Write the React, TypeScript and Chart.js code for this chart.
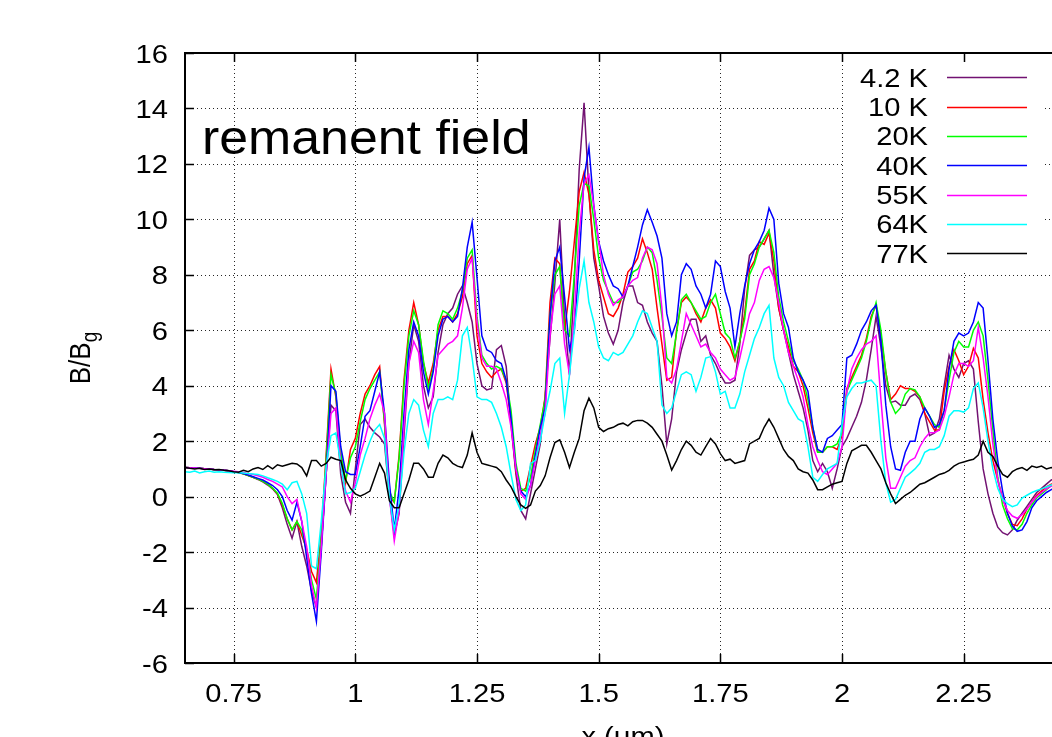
import { useEffect, useRef } from 'react';
import { Chart, registerables } from 'chart.js';

Chart.register(...registerables);

// Scan positions along the sample (μm)
const positions = [
  0.65, 0.66, 0.67, 0.68, 0.69, 0.7, 0.71, 0.72, 0.73, 0.74,
  0.75, 0.76, 0.77, 0.78, 0.79, 0.8, 0.81, 0.82, 0.83, 0.84,
  0.85, 0.86, 0.87, 0.88, 0.89, 0.9, 0.91, 0.92, 0.93, 0.94,
  0.95, 0.96, 0.97, 0.98, 0.99, 1.0, 1.01, 1.02, 1.03, 1.04,
  1.05, 1.06, 1.07, 1.08, 1.09, 1.1, 1.11, 1.12, 1.13, 1.14,
  1.15, 1.16, 1.17, 1.18, 1.19, 1.2, 1.21, 1.22, 1.23, 1.24,
  1.25, 1.26, 1.27, 1.28, 1.29, 1.3, 1.31, 1.32, 1.33, 1.34,
  1.35, 1.36, 1.37, 1.38, 1.39, 1.4, 1.41, 1.42, 1.43, 1.44,
  1.45, 1.46, 1.47, 1.48, 1.49, 1.5, 1.51, 1.52, 1.53, 1.54,
  1.55, 1.56, 1.57, 1.58, 1.59, 1.6, 1.61, 1.62, 1.63, 1.64,
  1.65, 1.66, 1.67, 1.68, 1.69, 1.7, 1.71, 1.72, 1.73, 1.74,
  1.75, 1.76, 1.77, 1.78, 1.79, 1.8, 1.81, 1.82, 1.83, 1.84,
  1.85, 1.86, 1.87, 1.88, 1.89, 1.9, 1.91, 1.92, 1.93, 1.94,
  1.95, 1.96, 1.97, 1.98, 1.99, 2.0, 2.01, 2.02, 2.03, 2.04,
  2.05, 2.06, 2.07, 2.08, 2.09, 2.1, 2.11, 2.12, 2.13, 2.14,
  2.15, 2.16, 2.17, 2.18, 2.19, 2.2, 2.21, 2.22, 2.23, 2.24,
  2.25, 2.26, 2.27, 2.28, 2.29, 2.3, 2.31, 2.32, 2.33, 2.34,
  2.35, 2.36, 2.37, 2.38, 2.39, 2.4, 2.41, 2.42, 2.43, 2.44,
  2.45,
];

// B/Bg profiles, one per temperature
const field4_2K = [
  1.05, 1.04, 1.03, 1.02, 1.01, 1.0, 0.98, 0.97, 0.95, 0.93,
  0.9, 0.87, 0.82, 0.76, 0.7, 0.62, 0.53, 0.42, 0.28, 0.08,
  -0.4, -1.0, -1.5, -0.9, -1.8, -2.5, -3.4, -4.0, -1.8, 0.8,
  3.3, 3.1, 0.8, -0.2, -0.6, 1.0, 2.6, 2.8, 2.5, 2.3,
  2.15, 1.9, 0.0, -1.4, -0.6, 2.2, 4.8, 6.2, 5.6, 4.0,
  3.2, 3.6, 5.2, 6.2, 6.6, 6.8, 7.3, 7.6, 7.0, 6.3,
  4.8, 4.0, 3.85, 3.9, 5.3, 5.45, 4.7, 2.6, 0.8, -0.5,
  -0.8, 0.1, 1.0, 1.9, 3.6, 5.7, 7.7, 10.0, 6.4, 4.4,
  7.8, 11.8, 14.2, 11.0, 8.6, 7.6, 6.5, 5.9, 5.5, 6.0,
  7.0, 7.6, 7.6, 7.0, 6.9, 6.3, 5.9, 5.6, 4.0, 1.9,
  2.8, 4.5, 5.3, 5.9, 6.4, 6.4, 5.6, 5.8, 5.1, 4.8,
  4.4, 4.1, 4.1, 4.2, 5.5, 7.5, 8.7, 8.9, 9.0, 9.3,
  9.6, 8.0, 6.8, 6.0, 5.2, 4.4, 3.8, 3.2, 2.4, 1.3,
  0.9, 1.2, 0.9, 0.3, 1.0, 1.8, 2.1, 2.5, 2.9, 3.4,
  4.2, 5.3, 6.5, 5.4, 4.0, 3.4, 3.45, 3.3, 3.3, 3.6,
  3.7, 3.5, 3.0, 2.2, 2.3, 2.8, 4.0, 5.1, 4.6, 4.3,
  4.8, 4.9, 4.6, 2.7, 1.0, 0.1, -0.6, -1.1, -1.3, -1.38,
  -1.2, -0.85, -0.6, -0.35, -0.1, 0.15, 0.3, 0.45, 0.6, 0.65,
  0.7,
];

const field10K = [
  1.05, 1.04, 1.03, 1.02, 1.01, 1.0, 0.98, 0.97, 0.95, 0.93,
  0.9, 0.87, 0.82, 0.76, 0.7, 0.63, 0.55, 0.45, 0.3, 0.1,
  -0.3, -0.8, -1.2, -0.9, -1.4, -1.9, -2.7, -3.1, -1.3, 1.5,
  4.6, 3.6, 1.5, 0.5, 1.7, 2.1, 3.0, 3.7, 4.0, 4.4,
  4.7, 2.6, 0.0, -0.2, 1.5, 4.2, 6.0, 7.0, 6.2, 4.8,
  4.1, 4.8, 6.0, 6.5, 6.5, 6.3, 6.6, 7.2, 8.4, 8.7,
  5.8, 4.8, 4.5, 4.3, 4.5, 4.6, 4.1, 2.7, 0.9, 0.2,
  0.3, 1.1, 1.9, 2.5, 3.6, 7.0, 8.6, 8.4, 6.0, 7.4,
  9.2, 11.0, 11.7, 10.9, 8.9, 7.8, 7.2, 6.6, 6.5, 6.8,
  7.3, 8.1, 8.3, 8.6, 9.3, 8.8, 8.2, 6.8, 5.5, 4.2,
  4.3, 6.0, 7.0, 7.2, 7.0, 6.6, 6.3, 6.8, 7.1, 6.8,
  5.9, 5.7, 5.4, 4.9, 5.6, 6.6, 8.2, 8.5, 9.2, 9.1,
  9.5, 8.5, 6.8, 6.0, 5.4, 4.7, 4.5, 4.0, 3.2, 2.3,
  1.6, 1.6, 1.8, 1.8, 1.7, 2.2, 3.9, 4.3, 4.7, 5.1,
  5.7, 6.5, 6.9, 5.8, 4.5, 3.5, 3.7, 4.0, 3.9, 3.9,
  3.8, 3.6, 3.0, 2.7, 2.4, 2.4, 3.8, 4.7, 5.3, 4.9,
  4.4, 4.7, 5.35, 5.0, 3.5, 2.3, 1.3, 0.6, -0.05, -0.6,
  -1.0, -1.05, -0.8, -0.45, -0.2, 0.05, 0.2, 0.35, 0.45, 0.5,
  0.55,
];

const field20K = [
  1.05, 1.04, 1.03, 1.02, 1.01, 1.0, 0.98, 0.97, 0.95, 0.93,
  0.9, 0.87, 0.82, 0.76, 0.7, 0.63, 0.55, 0.45, 0.3, 0.12,
  -0.25, -0.8, -1.2, -0.9, -1.2, -2.0, -3.0, -3.7, -1.5, 1.3,
  4.4, 3.7, 1.6, 0.6, 1.4, 1.8, 2.7, 3.5, 3.9, 4.2,
  4.5, 2.7, 0.2, -0.2, 1.4, 4.0, 5.8, 6.7, 6.2, 4.9,
  3.9, 4.6, 6.2, 6.7, 6.6, 6.4, 6.8, 7.4, 8.6, 8.9,
  6.5, 5.1, 4.8, 4.6, 4.7, 4.6, 4.2, 3.1, 1.2, 0.3,
  0.2, 0.7, 1.7, 2.6, 3.5, 6.5, 8.0, 8.3, 6.0, 5.8,
  8.0, 10.5, 11.3, 11.2, 10.0, 8.6, 7.8, 7.4, 7.0, 7.0,
  7.2, 7.6, 8.1, 8.2, 8.5, 9.0, 8.8, 7.8, 6.5, 5.0,
  4.8, 5.9, 7.1, 7.3, 7.0, 6.7, 6.4, 6.5, 7.0, 7.3,
  6.6, 5.9, 5.7, 5.0, 5.6, 6.4, 8.0, 8.4, 9.0, 9.3,
  9.6, 8.8, 7.2, 6.3, 5.6, 4.9, 4.6, 4.2, 3.5, 2.5,
  1.6, 1.6, 1.8, 1.8, 1.9, 2.3, 3.8, 4.2, 4.6, 5.0,
  5.6, 6.4, 7.0, 6.0, 4.5, 3.4, 3.0, 3.2, 3.7, 3.9,
  3.85, 3.6, 3.2, 2.9, 2.6, 2.5, 3.1, 4.2, 5.2, 5.6,
  5.4, 5.4, 6.0, 6.3, 5.8, 4.2, 2.4, 0.7, -0.3, -0.8,
  -1.15, -1.2, -1.0, -0.6, -0.3, -0.05, 0.1, 0.25, 0.4, 0.45,
  0.5,
];

const field40K = [
  1.05, 1.04, 1.03, 1.02, 1.01, 1.0, 0.98, 0.97, 0.95, 0.93,
  0.9, 0.87, 0.83, 0.78, 0.72, 0.66, 0.6, 0.5, 0.4, 0.25,
  0.0, -0.5, -0.85, -0.2, -0.9, -2.2, -3.5, -4.5, -2.0, 0.8,
  4.0, 3.8, 1.8, 0.9, 0.8, 0.8, 1.8, 2.9, 3.1, 3.8,
  4.5, 3.0, 0.5, -1.2, 0.3, 3.0, 5.3, 6.3, 5.8, 4.5,
  3.7, 4.5, 5.8, 6.4, 6.5, 6.3, 6.5, 7.5, 9.0, 9.9,
  7.9, 5.8, 5.3, 5.2, 4.9, 4.8, 4.2, 2.8, 1.0, 0.2,
  0.0, 0.4, 1.5, 2.5, 3.2, 6.5, 8.5, 9.0, 7.2, 5.3,
  6.0, 8.5, 11.5, 12.6, 10.5, 9.2, 8.5, 8.0, 7.6, 7.5,
  7.2, 7.6, 8.3, 9.0, 9.8, 10.35, 9.9, 9.4, 8.6, 6.6,
  5.8, 6.3, 8.0, 8.4, 8.2, 7.6, 7.3, 6.8, 7.3, 8.5,
  8.3, 7.4, 6.8, 5.4, 6.6, 7.6, 8.4, 8.9, 9.2, 9.6,
  10.4, 10.0, 7.7, 6.6, 6.1, 5.0, 4.5, 4.2, 3.8, 2.5,
  1.7, 1.6, 2.1, 2.2, 2.4, 2.6, 5.0, 5.1, 5.5, 6.0,
  6.3, 6.7, 6.9, 5.6, 3.3, 1.8, 1.0, 0.95, 1.6, 2.0,
  2.0, 2.8, 3.2, 2.9, 2.5, 2.6, 3.1, 4.6, 5.6, 5.9,
  5.8, 5.9, 6.3, 7.0, 6.8, 4.9, 2.8, 1.3, 0.2, -0.6,
  -1.05, -1.25, -1.2, -0.9, -0.4, -0.15, 0.0, 0.15, 0.25, 0.35,
  0.45,
];

const field55K = [
  1.05, 1.04, 1.03, 1.02, 1.01, 1.0, 0.98, 0.97, 0.95, 0.93,
  0.92, 0.9, 0.87, 0.83, 0.8, 0.75, 0.7, 0.62, 0.55, 0.45,
  0.35, 0.0, -0.25, -0.1, -0.9, -1.8, -3.2, -4.0, -1.8, 0.8,
  3.0, 3.2, 1.2, 0.2, -0.2, 0.5, 1.5, 2.1, 2.8, 3.3,
  3.7, 3.0, 0.0, -1.6, -0.5, 2.5, 4.8, 5.6, 5.2, 3.5,
  2.6, 3.8, 5.1, 5.3, 5.5, 5.6, 5.8, 6.8, 8.2, 8.6,
  6.3, 5.0, 4.7, 4.7, 4.6, 4.1, 3.5, 2.5, 1.0, 0.1,
  -0.1, 0.4, 1.3, 2.2, 3.0, 5.8, 7.3, 7.6, 5.5, 4.4,
  6.5, 9.5, 11.3, 11.6, 10.5, 9.2, 8.0, 7.3, 6.9, 7.1,
  7.2, 7.6, 7.8, 7.9, 8.6, 9.0, 8.9, 8.4, 6.8, 4.3,
  4.1, 4.6, 5.6, 6.6, 6.2, 5.8, 5.4, 5.5, 5.2, 5.0,
  4.6, 4.4, 4.2, 4.3, 5.0, 5.8, 6.6, 7.0, 7.8, 8.2,
  8.3, 7.9, 7.0, 6.0, 5.2, 4.7, 4.2, 3.6, 2.6, 1.8,
  1.3, 0.9, 0.8, 1.0, 1.2, 1.8, 3.8, 4.6, 5.0, 5.3,
  5.5, 5.6, 5.8, 3.5, 1.4, 0.3, 0.3, 0.7, 1.1, 1.3,
  1.4, 1.8, 2.1, 2.3, 2.3, 2.4, 2.9, 3.6, 4.4, 4.8,
  4.8, 4.7, 4.9, 6.1, 5.0, 3.6, 1.9, 0.6, -0.1, -0.5,
  -0.7, -0.78, -0.65, -0.45, -0.2, 0.0, 0.15, 0.28, 0.38, 0.45,
  0.5,
];

const field64K = [
  0.9, 0.88, 0.92, 0.85, 0.9, 0.92, 0.88, 0.9, 0.88, 0.87,
  0.86, 0.87, 0.85, 0.83, 0.82, 0.8, 0.75, 0.68, 0.62, 0.55,
  0.45, 0.25, 0.5, 0.55, 0.1, -0.6, -2.5, -2.6, -0.9, 1.1,
  2.2, 2.3, 1.2, 0.1, 0.15, 0.3, 0.9, 1.5, 2.0, 2.4,
  2.6, 2.1, 0.0, -1.2, -0.3, 1.6, 3.0, 3.5, 3.3, 2.4,
  1.8, 3.0, 3.5, 3.5, 3.6, 3.5, 4.2, 5.8, 6.1, 5.0,
  3.6, 3.5, 3.5, 3.4, 3.0, 2.5, 1.8, 0.8, -0.1, -0.5,
  -0.3, 1.2, 1.3, 2.0, 3.0, 3.8, 4.8, 5.0, 3.0, 4.4,
  6.0, 7.5, 8.5, 7.0, 6.3, 5.4, 5.0, 4.9, 5.2, 5.1,
  5.2, 5.5, 5.8, 6.3, 6.7, 6.6, 6.1, 5.6, 3.3, 3.0,
  3.2, 3.8, 4.4, 4.5, 4.4, 3.8, 4.3, 5.0, 5.05, 4.5,
  3.7, 3.8, 3.2, 3.2, 3.7, 4.5, 5.1, 5.7, 6.1, 6.6,
  6.9, 5.0, 4.3, 4.0, 3.4, 3.1, 2.8, 2.7, 1.8, 0.7,
  0.55, 0.8, 1.0, 1.1, 1.2, 2.6, 3.6, 3.9, 4.1, 4.1,
  4.15, 4.2, 4.0, 2.0, 0.5, -0.2, -0.1, 0.3, 0.7, 0.85,
  1.0, 1.2, 1.6, 1.7, 1.7, 1.8, 2.2, 2.9, 3.1, 3.1,
  3.05, 3.2, 3.9, 4.1, 3.2, 2.0, 1.0, 0.3, -0.1, -0.25,
  -0.36, -0.3, -0.05, 0.05, 0.15, 0.22, 0.28, 0.35, 0.42, 0.48,
  0.5,
];

const field77K = [
  1.05, 1.02, 1.0, 1.02, 0.98, 1.0, 0.97, 0.98, 0.95, 0.93,
  0.9, 0.88, 0.95, 0.9, 1.0, 1.05, 0.98, 1.12, 1.0, 1.15,
  1.1, 1.15, 1.2, 1.18, 1.05, 0.75, 1.3, 1.3, 1.1, 1.2,
  1.42, 1.35, 1.3, 0.6, 0.3, 0.1, 0.02, 0.1, 0.2, 0.7,
  1.2, 0.85, -0.15, -0.4, -0.4, 0.1, 0.6, 1.2, 1.2, 1.0,
  0.7, 0.7, 1.2, 1.5, 1.4, 1.2, 1.1, 1.05, 1.5, 2.3,
  1.6, 1.2, 1.15, 1.1, 1.05, 0.9, 0.6, 0.35, 0.0, -0.3,
  -0.42, -0.3, 0.2, 0.4, 0.75, 1.4, 1.95, 2.05, 1.6, 1.05,
  1.6, 2.1, 3.1, 3.55, 3.2, 2.5, 2.35, 2.45, 2.5, 2.6,
  2.65, 2.55, 2.7, 2.75, 2.75, 2.65, 2.5, 2.25, 2.0, 1.5,
  0.96, 1.3, 1.7, 2.0, 1.85, 1.6, 1.5, 1.8, 2.1, 1.9,
  1.55, 1.3, 1.35, 1.2, 1.25, 1.3, 1.9, 2.0, 2.1, 2.5,
  2.8, 2.5, 2.1, 1.7, 1.45, 1.3, 1.0, 0.9, 0.85, 0.6,
  0.25, 0.25, 0.35, 0.45, 0.5, 0.55, 1.2, 1.65, 1.75, 1.85,
  1.85, 1.6, 1.3, 1.0, 0.5, 0.1, -0.25, -0.1, 0.05, 0.15,
  0.3, 0.45, 0.5, 0.6, 0.7, 0.8, 0.85, 0.95, 1.1, 1.2,
  1.25, 1.3, 1.35, 1.5, 2.0, 1.6, 1.45, 1.1, 0.8, 0.7,
  0.9, 1.0, 1.05, 0.95, 1.1, 1.05, 1.1, 1.0, 1.05, 1.0,
  1.05,
];

const seriesLabels = ['4.2 K', '10 K', '20K', '40K', '55K', '64K', '77K'];
const seriesColors = ['#721272', '#ff0000', '#00ff00', '#0000ff', '#ff00ff', '#00ffff', '#000000'];
const seriesValues = [field4_2K, field10K, field20K, field40K, field55K, field64K, field77K];

const xTicks = [0.75, 1, 1.25, 1.5, 1.75, 2, 2.25];
const xTickLabels = ['0.75', '1', '1.25', '1.5', '1.75', '2', '2.25'];
const yTicks = [-6, -4, -2, 0, 2, 4, 6, 8, 10, 12, 14, 16];
const yTickLabels = ['-6', '-4', '-2', '0', '2', '4', '6', '8', '10', '12', '14', '16'];
const xRange = [0.65, 2.45];
const yRange = [-6, 16];

const FONT = '"Liberation Sans", Arial, Helvetica, sans-serif';
const TEXT_STRETCH = 1.12;

function stretchedText(
  ctx: CanvasRenderingContext2D,
  text: string,
  x: number,
  y: number,
  size: number,
  align: 'left' | 'right' | 'center',
  sx: number = TEXT_STRETCH,
) {
  ctx.save();
  ctx.font = `${size}px ${FONT}`;
  ctx.textBaseline = 'alphabetic';
  ctx.textAlign = 'left';
  const w = ctx.measureText(text).width * sx;
  const left = align === 'right' ? x - w : align === 'center' ? x - w / 2 : x;
  ctx.translate(left, y);
  ctx.scale(sx, 1);
  ctx.fillStyle = '#000';
  ctx.fillText(text, 0, 0);
  ctx.restore();
}

const framePlugin = {
  id: 'gnuFrame',
  beforeDatasetsDraw(chart: any) {
    const { ctx, chartArea: a, scales } = chart;
    ctx.save();
    ctx.strokeStyle = 'rgba(0,0,0,0.85)';
    ctx.lineWidth = 1;
    ctx.setLineDash([1, 3]);
    ctx.beginPath();
    for (const v of xTicks) {
      const px = Math.round(scales.x.getPixelForValue(v)) + 0.5;
      ctx.moveTo(px, a.top);
      ctx.lineTo(px, a.bottom);
    }
    for (const v of yTicks) {
      if (v === yRange[0] || v === yRange[1]) continue;
      const py = Math.round(scales.y.getPixelForValue(v)) + 0.5;
      ctx.moveTo(a.left, py);
      ctx.lineTo(a.right, py);
    }
    ctx.stroke();
    ctx.restore();
  },
  afterDatasetsDraw(chart: any) {
    const { ctx, chartArea: a, scales } = chart;

    // key box
    ctx.save();
    ctx.fillStyle = '#fff';
    ctx.fillRect(843, a.top + 1, 199, 270 - a.top - 1);
    const rowTop = 77.3;
    const rowStep = 29.33;
    seriesLabels.forEach((label, i) => {
      const y = rowTop + i * rowStep;
      stretchedText(ctx, label, 928, y + 9.4, 26, 'right');
      ctx.strokeStyle = seriesColors[i];
      ctx.lineWidth = 1.5;
      ctx.beginPath();
      ctx.moveTo(947, Math.round(y) + 0.5);
      ctx.lineTo(1027, Math.round(y) + 0.5);
      ctx.stroke();
    });
    ctx.restore();

    // annotation
    stretchedText(ctx, 'remanent field', 202, 154, 48, 'left', 1.08);

    // border and inward ticks
    ctx.save();
    ctx.strokeStyle = '#000';
    ctx.lineWidth = 2;
    ctx.strokeRect(a.left, a.top, a.right - a.left, a.bottom - a.top);
    ctx.lineWidth = 1.5;
    ctx.beginPath();
    for (const v of xTicks) {
      const px = Math.round(scales.x.getPixelForValue(v)) + 0.5;
      ctx.moveTo(px, a.bottom);
      ctx.lineTo(px, a.bottom - 9);
      ctx.moveTo(px, a.top);
      ctx.lineTo(px, a.top + 9);
    }
    for (const v of yTicks) {
      const py = Math.round(scales.y.getPixelForValue(v)) + 0.5;
      ctx.moveTo(a.left, py);
      ctx.lineTo(a.left + 9, py);
      ctx.moveTo(a.right, py);
      ctx.lineTo(a.right - 9, py);
    }
    ctx.stroke();
    ctx.restore();

    // tick labels
    xTicks.forEach((v, i) => {
      stretchedText(ctx, xTickLabels[i], scales.x.getPixelForValue(v), 702, 26, 'center');
    });
    yTicks.forEach((v, i) => {
      stretchedText(ctx, yTickLabels[i], 168, scales.y.getPixelForValue(v) + 9.5, 26, 'right');
    });

    // axis titles
    stretchedText(ctx, 'x (μm)', (a.left + a.right) / 2, 745, 26, 'center');

    ctx.save();
    ctx.translate(90, (a.top + a.bottom) / 2);
    ctx.scale(TEXT_STRETCH, 1);
    ctx.rotate(-Math.PI / 2);
    ctx.fillStyle = '#000';
    ctx.textBaseline = 'alphabetic';
    ctx.font = `26px ${FONT}`;
    const w1 = ctx.measureText('B/B').width;
    ctx.font = `19px ${FONT}`;
    const w2 = ctx.measureText('g').width;
    const start = -(w1 + w2) / 2;
    ctx.font = `26px ${FONT}`;
    ctx.fillText('B/B', start, 0);
    ctx.font = `19px ${FONT}`;
    ctx.fillText('g', start + w1, 6);
    ctx.restore();
  },
};

export default function App() {
  const canvasRef = useRef<HTMLCanvasElement>(null);

  useEffect(() => {
    const canvas = canvasRef.current;
    if (!canvas) return;
    const chart = new Chart(canvas, {
      type: 'line',
      data: {
        datasets: seriesValues.map((vals, i) => ({
          label: seriesLabels[i],
          data: positions.map((x, j) => ({ x, y: vals[j] })),
          borderColor: seriesColors[i],
          backgroundColor: seriesColors[i],
          borderWidth: 1.5,
          pointRadius: 0,
          tension: 0,
          fill: false,
          order: seriesValues.length - 1 - i,
        })),
      },
      options: {
        animation: false,
        responsive: false,
        devicePixelRatio: 1,
        layout: { padding: { top: 53, right: 49, bottom: 0, left: 0 } },
        plugins: {
          legend: { display: false },
          tooltip: { enabled: false },
        },
        scales: {
          x: {
            type: 'linear',
            min: xRange[0],
            max: xRange[1],
            grid: { display: false },
            border: { display: false },
            ticks: { display: false },
            afterFit: (s: any) => {
              s.height = 74;
            },
          },
          y: {
            type: 'linear',
            min: yRange[0],
            max: yRange[1],
            grid: { display: false },
            border: { display: false },
            ticks: { display: false },
            afterFit: (s: any) => {
              s.width = 185;
            },
          },
        },
      },
      plugins: [framePlugin],
    });
    return () => chart.destroy();
  }, []);

  return (
    <div
      style={{
        position: 'fixed',
        left: 0,
        top: 0,
        width: 1052,
        height: 737,
        overflow: 'hidden',
        background: '#fff',
      }}
    >
      <canvas ref={canvasRef} width={1110} height={737} style={{ display: 'block', width: 1110, height: 737 }} />
    </div>
  );
}
